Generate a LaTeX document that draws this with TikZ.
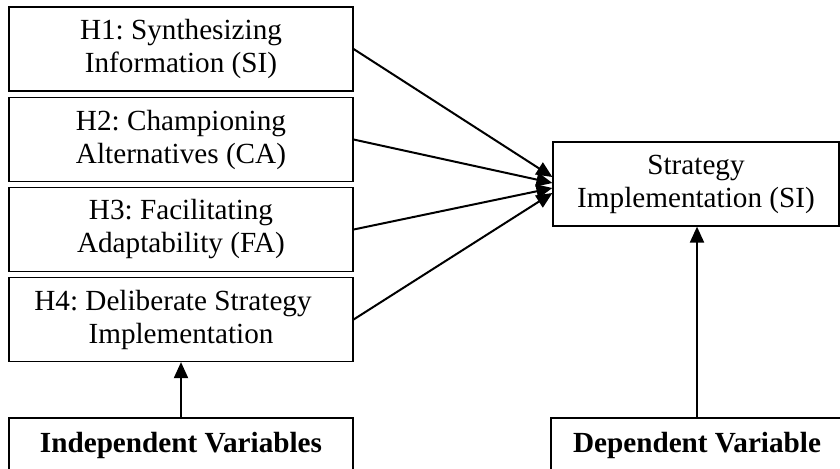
\documentclass[tikz,border=0pt]{standalone}
\usepackage{fontspec}
\setmainfont{Liberation Serif}
\usetikzlibrary{arrows.meta,calc}
\tikzset{
  hypo/.style={draw, line width=0.6pt, minimum width=172pt, minimum height=42pt, align=center, inner sep=0pt},
  link/.style={line width=1pt, -{Triangle[length=8pt,width=7pt]}},
}
\frenchspacing
\begin{document}
\begin{tikzpicture}[x=0.5pt,y=-0.5pt,font=\fontsize{14.6}{16.5}\selectfont]
\clip (0,0) rectangle (840,468);
% Hypotheses
    \node[hypo] (h1) at (181,49) {H1: Synthesizing\\Information (SI)};
    \node[hypo] (h2) at (181,139.5) {H2: Championing\\Alternatives (CA)};
    \node[hypo] (h3) at (181,229.5) {H3: Facilitating\\Adaptability (FA)};
    \node[hypo] (h4) at (181,319.5) {H4: Deliberate Strategy\hspace*{8pt}\\Implementation};
% Outcome
    \node[hypo, minimum width=143pt] (si) at (696,184) {Strategy\\Implementation (SI)};
% Variable labels
    \node[hypo, minimum height=27pt, font=\fontsize{14.6}{16.5}\selectfont\bfseries] (iv) at (181,445) {Independent Variables};
    \node[hypo, minimum width=146pt, minimum height=27pt, font=\fontsize{14.6}{16.5}\selectfont\bfseries] (dv) at (697,445) {Dependent Variable};
% Links
    \draw[link] (h1.east) -- ($(si.west)+(0,-7)$);
    \draw[link] (h2.east) -- ($(si.west)+(0,-1)$);
    \draw[link] (h3.east) -- ($(si.west)+(0,4)$);
    \draw[link] (h4.east) -- ($(si.west)+(0,9)$);
    \draw[link] (iv.north) -- (h4.south);
    \draw[link] (dv.north) -- (dv.north |- si.south);
\end{tikzpicture}
\end{document}
